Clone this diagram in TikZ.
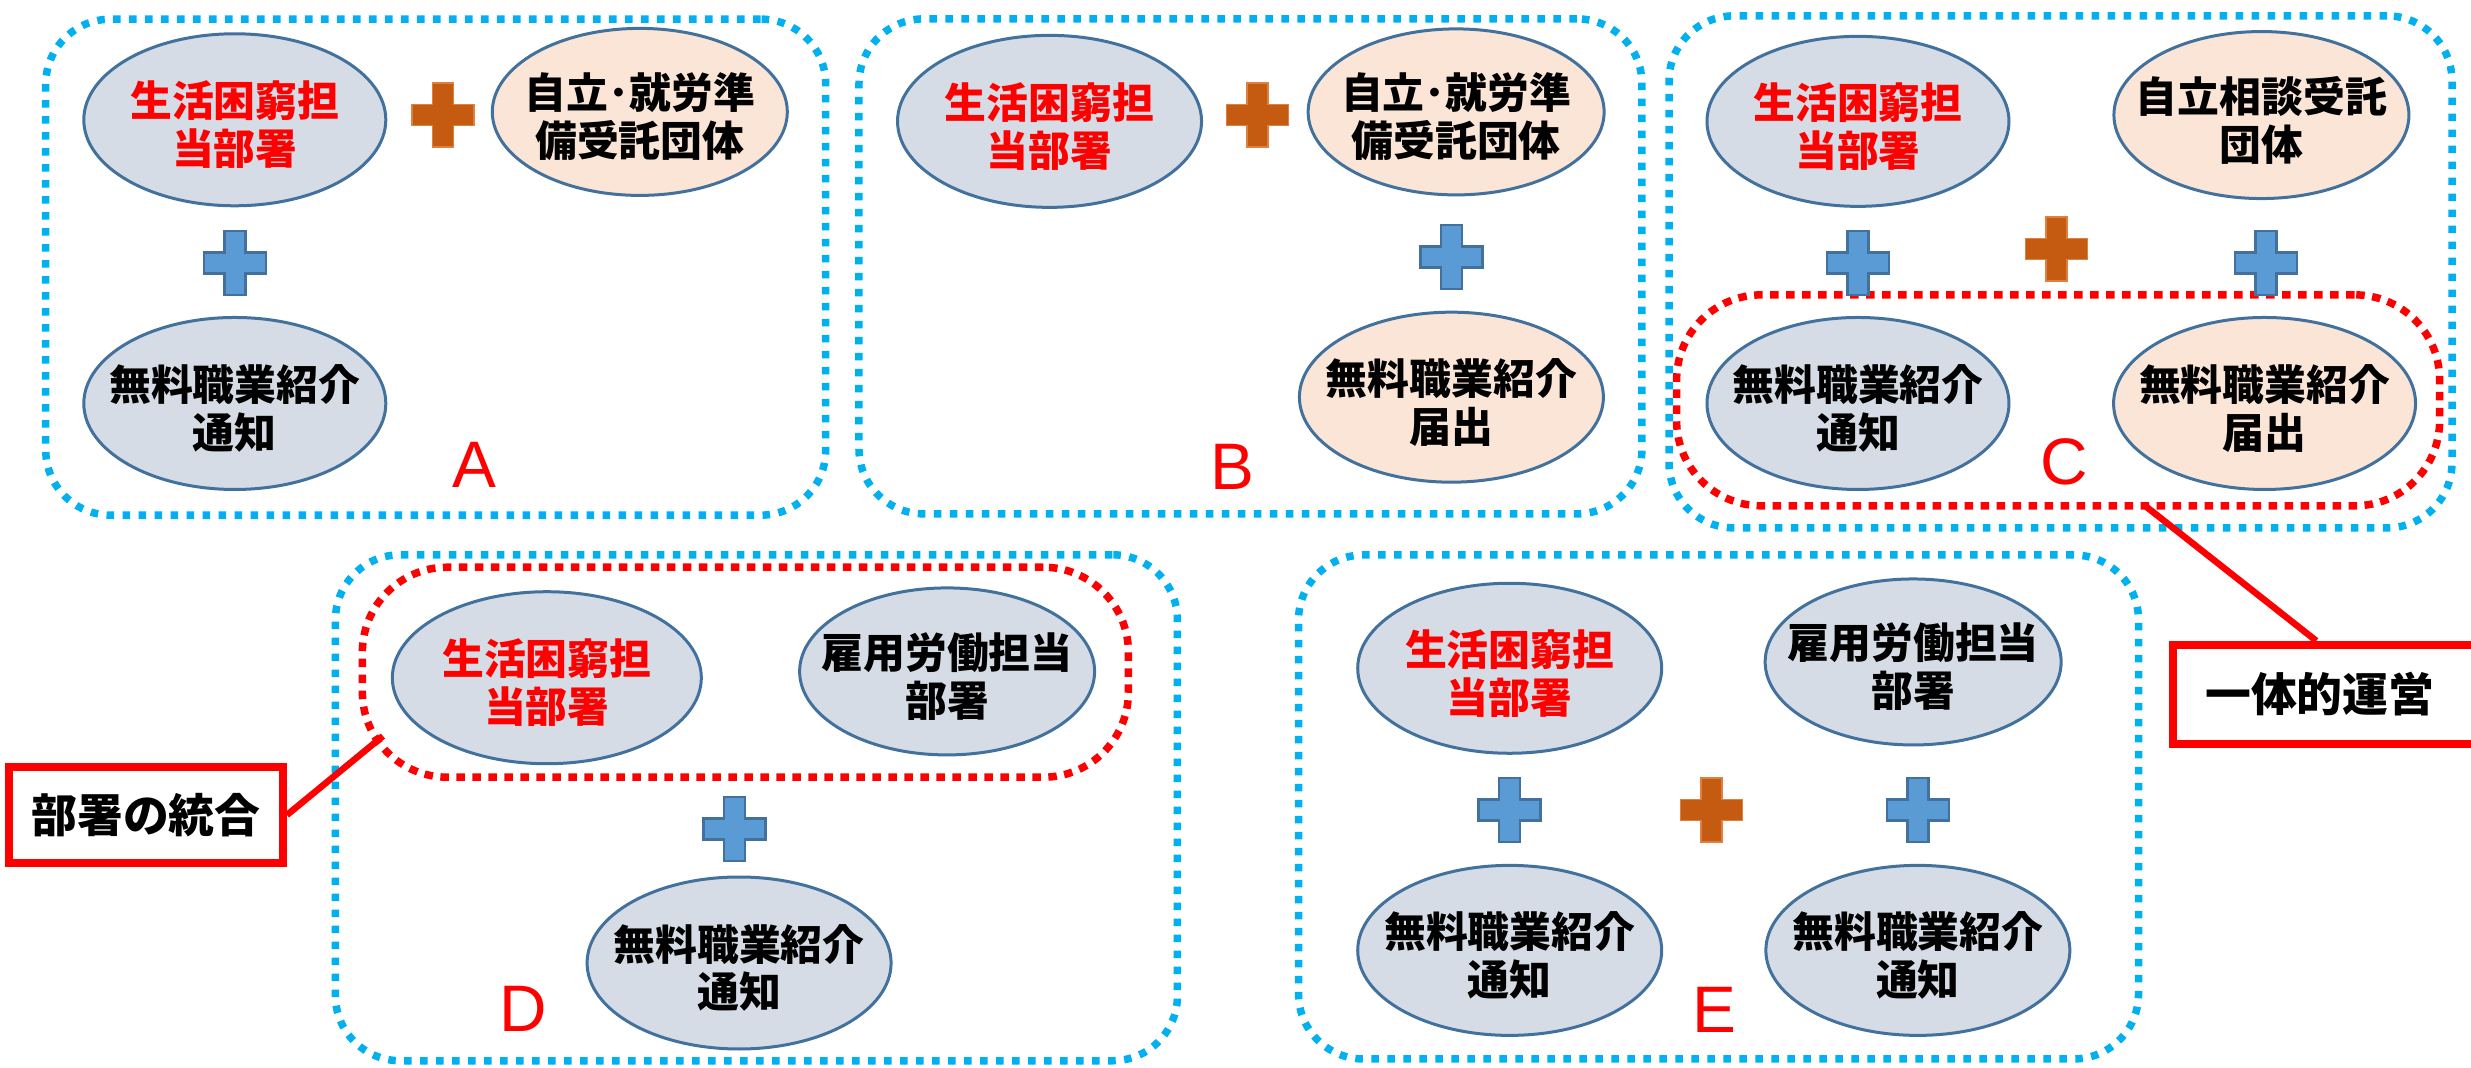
\documentclass[tikz,border=0pt]{standalone}
\usepackage{fontspec}
\newfontfamily\jpfont{Noto Sans CJK JP}
\newfontfamily\latfont{Liberation Sans}
\usetikzlibrary{shapes.geometric}
\definecolor{dotblue}{HTML}{00B0F0}
\definecolor{dotred}{HTML}{FF0000}
\definecolor{ovline}{HTML}{41719C}
\definecolor{ovgray}{HTML}{D6DCE5}
\definecolor{ovpeach}{HTML}{FBE5D6}
\definecolor{plusblue}{HTML}{5B9BD5}
\definecolor{plusorange}{HTML}{C55A11}
\definecolor{plusorangeline}{HTML}{E08040}
\tikzset{
  bluegroup/.style={rectangle, draw=dotblue, line width=7.5bp, dash pattern=on 7.5bp off 8.5bp, rounded corners=65bp, inner sep=0pt},
  redgroup/.style={rectangle, draw=dotred, line width=7.5bp, dash pattern=on 8.5bp off 7.5bp, rounded corners=85bp, inner sep=0pt},
  oval/.style={ellipse, draw=ovline, line width=3bp, inner sep=0pt},
  ovaltext/.style={font=\jpfont\bfseries\fontsize{42}{48}\selectfont, align=center, inner sep=0pt, yshift=-5bp},
  letter/.style={font=\latfont\fontsize{66}{66}\selectfont, text=dotred, inner sep=0pt},
  callbox/.style={rectangle, draw=dotred, line width=8bp, fill=white, inner sep=0pt, font=\jpfont\bfseries\fontsize{46}{50}\selectfont},
  callline/.style={draw=dotred, line width=6.5bp},
  blueplus/.style={fill=plusblue, draw=ovline, line width=2.5bp},
  orangeplus/.style={fill=plusorange, draw=plusorangeline, line width=1.5bp},
  crossmark/.pic={\path[pic actions] (-10.5bp,-32bp) -- (10.5bp,-32bp) -- (10.5bp,-10.5bp) -- (31bp,-10.5bp) -- (31bp,10.5bp) -- (10.5bp,10.5bp) -- (10.5bp,32bp) -- (-10.5bp,32bp) -- (-10.5bp,10.5bp) -- (-31bp,10.5bp) -- (-31bp,-10.5bp) -- (-10.5bp,-10.5bp) -- cycle;}
}
\newcommand{\ovalnode}[7]{%
  \node[oval, fill=#3, minimum width=#4bp, minimum height=#5bp] (#1) at (#2) {};
  \node[ovaltext, text=#6] (#1t) at (#1) {#7};}
\begin{document}
\begin{tikzpicture}[x=1.5759bp, y=-1.5761bp]
\useasboundingbox (0,0) rectangle (1568,677);
\clip (0,0) rectangle (1568,677);
% group frames
\node[bluegroup, minimum width=780bp, minimum height=496bp] (boxA) at (276.5,169.5) {};
\node[bluegroup, minimum width=783bp, minimum height=495bp] (boxB) at (793.5,169) {};
\node[bluegroup, minimum width=783bp, minimum height=512bp] (boxC) at (1307.5,172.5) {};
\node[bluegroup, minimum width=842bp, minimum height=506bp] (boxD) at (480,512.5) {};
\node[bluegroup, minimum width=840bp, minimum height=504bp] (boxE) at (1090.5,512) {};
\node[redgroup, minimum width=763bp, minimum height=211bp] (grpC) at (1306,254) {};
\node[redgroup, minimum width=766bp, minimum height=210bp] (grpD) at (473,426.5) {};
% callouts
\coordinate (cC) at (1360,320);
\coordinate (cD) at (243,467);
\node[callbox, anchor=west, minimum width=313bp, minimum height=99bp] (callC) at (1376.5,440.5) {\hspace*{-20bp}一体的運営};
\node[callbox, minimum width=274bp, minimum height=96bp] (callD) at (92.6,517.1) {部署の統合};
\draw[callline] (cC) -- ([xshift=147bp]callC.north west);
\draw[callline] (callD.east) -- (cD);
% A
\ovalnode{a1}{149,76}{ovgray}{302}{172}{dotred}{生活困窮担\\当部署}
\ovalnode{a2}{406,71}{ovpeach}{295}{167}{black}{自立･就労準\\備受託団体}
\ovalnode{a3}{149,256}{ovgray}{302}{172}{black}{無料職業紹介\\通知}
\pic[orangeplus] at (281,73) {crossmark};
\pic[blueplus] at (149,167) {crossmark};
\node[letter] (labA) at (301,295) {A};
% B
\ovalnode{b1}{666,77}{ovgray}{304}{172}{dotred}{生活困窮担\\当部署}
\ovalnode{b2}{924,71}{ovpeach}{296}{166}{black}{自立･就労準\\備受託団体}
\ovalnode{b3}{921,252}{ovpeach}{304}{170}{black}{無料職業紹介\\届出}
\pic[orangeplus] at (798,73) {crossmark};
\pic[blueplus] at (921,163) {crossmark};
\node[letter] (labB) at (782,296) {B};
% C
\ovalnode{c1}{1179,77}{ovgray}{302}{170}{dotred}{生活困窮担\\当部署}
\ovalnode{c2}{1435,73}{ovpeach}{295}{167}{black}{自立相談受託\\団体}
\ovalnode{c3}{1179,256}{ovgray}{302}{172}{black}{無料職業紹介\\通知}
\ovalnode{c4}{1437,256}{ovpeach}{302}{172}{black}{無料職業紹介\\届出}
\pic[blueplus] at (1179,167) {crossmark};
\pic[orangeplus] at (1305,158) {crossmark};
\pic[blueplus] at (1438,167) {crossmark};
\node[letter] (labC) at (1310,293) {C};
% D
\ovalnode{d1}{347,430}{ovgray}{309}{172}{dotred}{生活困窮担\\当部署}
\ovalnode{d2}{601,426}{ovgray}{295}{167}{black}{雇用労働担当\\部署}
\ovalnode{d3}{469,611}{ovgray}{304}{172}{black}{無料職業紹介\\通知}
\pic[blueplus] at (466,526) {crossmark};
\node[letter] (labD) at (332,640) {D};
% E
\ovalnode{e1}{958,424}{ovgray}{304}{170}{dotred}{生活困窮担\\当部署}
\ovalnode{e2}{1214,420}{ovgray}{296}{166}{black}{雇用労働担当\\部署}
\ovalnode{e3}{958,603}{ovgray}{304}{170}{black}{無料職業紹介\\通知}
\ovalnode{e4}{1217,603}{ovgray}{304}{170}{black}{無料職業紹介\\通知}
\pic[blueplus] at (958,514) {crossmark};
\pic[orangeplus] at (1086,514) {crossmark};
\pic[blueplus] at (1217,514) {crossmark};
\node[letter] (labE) at (1088,641) {E};
\end{tikzpicture}
\end{document}
